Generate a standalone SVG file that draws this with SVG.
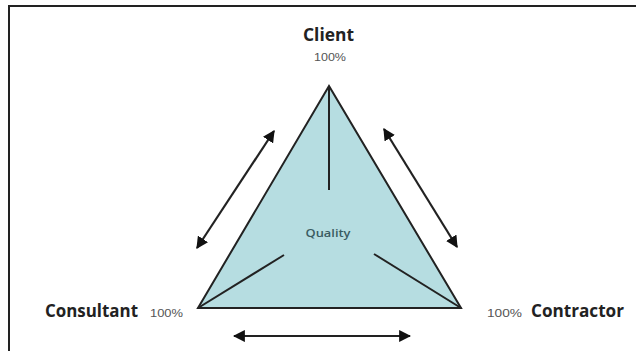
<svg xmlns="http://www.w3.org/2000/svg" width="636" height="351" viewBox="0 0 636 351">
<style>
.lbl{font-family:"Open Sans","Liberation Sans",sans-serif;font-weight:bold;font-size:17px;fill:#222}
.pct{font-family:"Liberation Sans",sans-serif;font-size:10.5px;fill:#555}
.edge{stroke:#222;stroke-width:2;fill:none}
.arr{stroke:#222;stroke-width:2.2;fill:none;marker-start:url(#ah);marker-end:url(#ah)}
</style>
<defs>
<marker id="ah" viewBox="0 0 10 10" refX="9" refY="5" markerWidth="5.5" markerHeight="5.5" orient="auto-start-reverse" markerUnits="strokeWidth">
<path d="M0,0 L10,5 L0,10 z" fill="#111"/>
</marker>
</defs>
<rect x="0" y="0" width="636" height="351" fill="#fff"/>
<rect x="9" y="6" width="640" height="360" fill="none" stroke="#222" stroke-width="2"/>
<g id="quality">
<polygon points="329,86 198,308 461,308" fill="#b6dde1" stroke="#222" stroke-width="2" stroke-linejoin="miter"/>
<line class="edge" x1="329" y1="86" x2="329" y2="190"/>
<line class="edge" x1="198" y1="308" x2="284" y2="255"/>
<line class="edge" x1="461" y1="308" x2="374" y2="254"/>
<text x="328" y="237" text-anchor="middle" font-family="Open Sans, Liberation Sans, sans-serif" font-weight="600" font-size="11.5" fill="#3a5c62" textLength="45" lengthAdjust="spacingAndGlyphs">Quality</text>
</g>
<g id="client">
<text class="lbl" x="328.5" y="41" text-anchor="middle" textLength="51" lengthAdjust="spacingAndGlyphs">Client</text>
<text class="pct" x="330" y="61" text-anchor="middle" textLength="32" lengthAdjust="spacingAndGlyphs">100%</text>
</g>
<g id="consultant">
<text class="lbl" x="45" y="317" textLength="93" lengthAdjust="spacingAndGlyphs">Consultant</text>
<text class="pct" x="150" y="317" textLength="33" lengthAdjust="spacingAndGlyphs">100%</text>
</g>
<g id="contractor">
<text class="pct" x="487" y="317" textLength="35" lengthAdjust="spacingAndGlyphs">100%</text>
<text class="lbl" x="531" y="317" textLength="93" lengthAdjust="spacingAndGlyphs">Contractor</text>
</g>
<g id="connectors">
<line class="arr" x1="197" y1="248" x2="274" y2="131"/>
<line class="arr" x1="384" y1="129" x2="457" y2="247"/>
<line class="arr" x1="234" y1="336" x2="410" y2="336"/>
</g>
</svg>
